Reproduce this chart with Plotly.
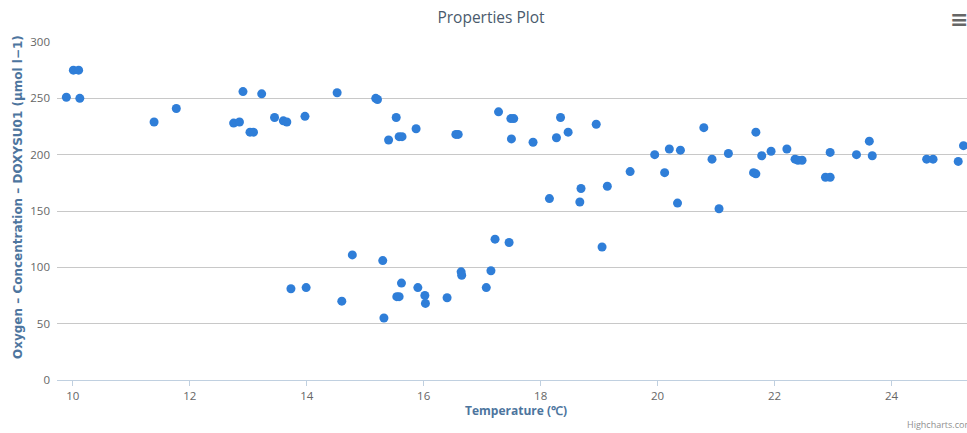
import plotly.graph_objects as go

temperature = [
    9.89, 10.01, 10.10, 10.12, 11.39, 11.77, 12.75, 12.85, 12.91, 13.03,
    13.09, 13.23, 13.45, 13.60, 13.66, 13.73, 13.97, 13.99, 14.52, 14.60,
    14.78, 15.18, 15.21, 15.30, 15.32, 15.40, 15.53, 15.54, 15.58, 15.58,
    15.62, 15.63, 15.87, 15.90, 16.02, 16.03, 16.40, 16.55, 16.59, 16.64,
    16.65, 17.07, 17.15, 17.22, 17.28, 17.46, 17.49, 17.50, 17.54, 17.87,
    18.15, 18.27, 18.34, 18.47, 18.67, 18.69, 18.95, 19.05, 19.14, 19.53,
    19.95, 20.12, 20.20, 20.34, 20.39, 20.79, 20.93, 21.05, 21.21, 21.64,
    21.68, 21.68, 21.78, 21.94, 22.21, 22.35, 22.40, 22.47, 22.87, 22.95,
    22.95, 23.40, 23.62, 23.67, 24.60, 24.71, 25.14, 25.23,
]
oxygen = [
    251, 275, 275, 250, 229, 241, 228, 229, 256, 220,
    220, 254, 233, 230, 229, 81, 234, 82, 255, 70,
    111, 250, 249, 106, 55, 213, 233, 74, 74, 216,
    86, 216, 223, 82, 75, 68, 73, 218, 218, 96,
    93, 82, 97, 125, 238, 122, 232, 214, 232, 211,
    161, 215, 233, 220, 158, 170, 227, 118, 172, 185,
    200, 184, 205, 157, 204, 224, 196, 152, 201, 184,
    183, 220, 199, 203, 205, 196, 195, 195, 180, 180,
    202, 200, 212, 199, 196, 196, 194, 208,
]

x_ticks = [10, 12, 14, 16, 18, 20, 22, 24]
y_ticks = [0, 50, 100, 150, 200, 250, 300]

chart_title = "Properties Plot"
x_title = "Temperature (℃)"
y_title = "Oxygen – Concentration – DOXYSU01 (µmol l−1)"

W, H = 967, 433

fig = go.Figure()
fig.add_trace(go.Scatter(
    x=temperature, y=oxygen, mode="markers",
    marker=dict(color="#2f7ed8", size=9, line=dict(width=0)),
    showlegend=False,
))

fig.update_layout(
    width=W, height=H,
    paper_bgcolor="white", plot_bgcolor="white",
    margin=dict(l=57, r=0, t=42, b=53),
    title=dict(text=chart_title, xref="container", yref="container",
               x=491 / W, y=1 - 18 / H, xanchor="center", yanchor="middle",
               font=dict(family="Open Sans, sans-serif", size=15.5, color="#4a5a6c")),
    xaxis=dict(range=[9.73, 25.29], tickvals=x_ticks, showgrid=False,
               showline=True, linecolor="#C0D0E0", linewidth=1,
               ticks="outside", ticklen=5, tickcolor="#C0D0E0",
               zeroline=False,
               tickfont=dict(family="Open Sans, sans-serif", size=11.5, color="#666666")),
    yaxis=dict(range=[0, 300], tickvals=y_ticks, showgrid=True,
               gridcolor="#C8C8C8", gridwidth=1, zeroline=False, showline=False,
               ticks="", ticklabelstandoff=6,
               tickfont=dict(family="Open Sans, sans-serif", size=11.5, color="#666666")),
    annotations=[
        dict(text=y_title, xref="paper", yref="paper",
             x=(18 - 57) / 910, y=(380 - 197) / 338, textangle=-90, showarrow=False,
             xanchor="center", yanchor="middle",
             font=dict(family="DejaVu Sans, sans-serif", size=12, color="#4d759e", weight="bold")),
        dict(text=x_title, xref="paper", yref="paper",
             x=(516 - 57) / 910, y=(380 - 411) / 338, showarrow=False,
             xanchor="center", yanchor="middle",
             font=dict(family="Open Sans, sans-serif", size=12, color="#4d759e", weight="bold")),
        dict(text="Highcharts.com", xref="paper", yref="paper",
             x=(905 - 57) / 910, y=(380 - 425) / 338, showarrow=False,
             xanchor="left", yanchor="middle",
             font=dict(family="Open Sans, sans-serif", size=9, color="#909090")),
        dict(text="≡", xref="paper", yref="paper",
             x=(959 - 57) / 910, y=(380 - 20) / 338, showarrow=False,
             xanchor="center", yanchor="middle",
             font=dict(family="DejaVu Sans, sans-serif", size=22, color="#666666", weight="bold")),
    ],
)

fig.write_html(
    "out.html",
    config={"displayModeBar": False},
    post_script="document.body.style.margin='0';document.body.style.overflow='hidden';",
)
